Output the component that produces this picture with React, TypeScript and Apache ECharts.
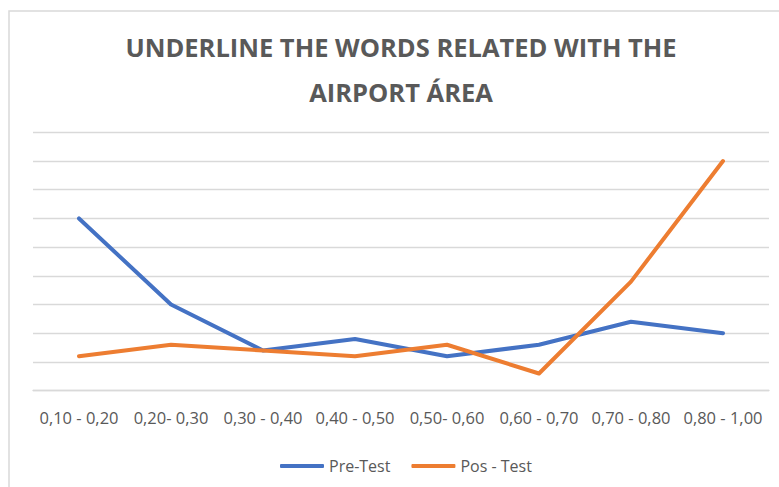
import React, { useEffect, useRef } from "react";
import * as echarts from "echarts";

const categories = [
  "0,10 - 0,20",
  "0,20- 0,30",
  "0,30 - 0,40",
  "0,40 - 0,50",
  "0,50- 0,60",
  "0,60 - 0,70",
  "0,70 - 0,80",
  "0,80 - 1,00",
];
const preTest = [6, 3, 1.4, 1.8, 1.2, 1.6, 2.4, 2];
const posTest = [1.2, 1.6, 1.4, 1.2, 1.6, 0.6, 3.8, 8];
const titleText = "UNDERLINE THE WORDS RELATED WITH THE\nAIRPORT ÁREA";

const FONT = "'Open Sans', sans-serif";

export default function App() {
  const ref = useRef<HTMLDivElement>(null);
  useEffect(() => {
    if (!ref.current) return;
    const chart = echarts.init(ref.current, undefined, { renderer: "svg" });
    chart.setOption({
      animation: false,
      backgroundColor: "#ffffff",
      title: {
        text: titleText,
        left: 401,
        top: 24,
        textAlign: "center",
        padding: 0,
        textStyle: {
          fontFamily: FONT,
          fontWeight: "bold",
          fontSize: 25.5,
          color: "#595959",
          lineHeight: 45,
        },
      },
      graphic: [
        {
          type: "rect",
          shape: { x: 9, y: 11, width: 820, height: 520 },
          style: { fill: "none", stroke: "#d9d9d9", lineWidth: 1.5 },
          silent: true,
        },
      ],
      legend: {
        left: 275,
        top: 453,
        itemWidth: 44,
        itemHeight: 4,
        itemGap: 21,
        icon: "roundRect",
        textStyle: { fontFamily: FONT, fontSize: 16, color: "#595959" },
        data: ["Pre-Test", "Pos - Test"],
      },
      grid: { left: 33, right: 10, top: 132.3, bottom: 96.3, containLabel: false },
      xAxis: {
        type: "category",
        data: categories,
        boundaryGap: true,
        axisLine: { show: true, lineStyle: { color: "#d9d9d9", width: 1.3 } },
        axisTick: { show: false },
        axisLabel: {
          interval: 0,
          margin: 18,
          fontFamily: FONT,
          fontSize: 16.5,
          color: "#595959",
        },
      },
      yAxis: {
        type: "value",
        min: 0,
        max: 9,
        interval: 1,
        axisLine: { show: false },
        axisTick: { show: false },
        axisLabel: { show: false },
        splitLine: { show: true, lineStyle: { color: "#d9d9d9", width: 1.3 } },
      },
      series: [
        {
          name: "Pre-Test",
          type: "line",
          data: preTest,
          symbol: "none",
          smooth: false,
          itemStyle: { color: "#4472C4" },
          lineStyle: { color: "#4472C4", width: 4, cap: "round", join: "round" },
        },
        {
          name: "Pos - Test",
          type: "line",
          data: posTest,
          symbol: "none",
          smooth: false,
          itemStyle: { color: "#ED7D31" },
          lineStyle: { color: "#ED7D31", width: 4, cap: "round", join: "round" },
        },
      ],
    });
    return () => chart.dispose();
  }, []);
  return (
    <div
      ref={ref}
      style={{ position: "fixed", left: 0, top: 0, width: 779, height: 487 }}
    />
  );
}
